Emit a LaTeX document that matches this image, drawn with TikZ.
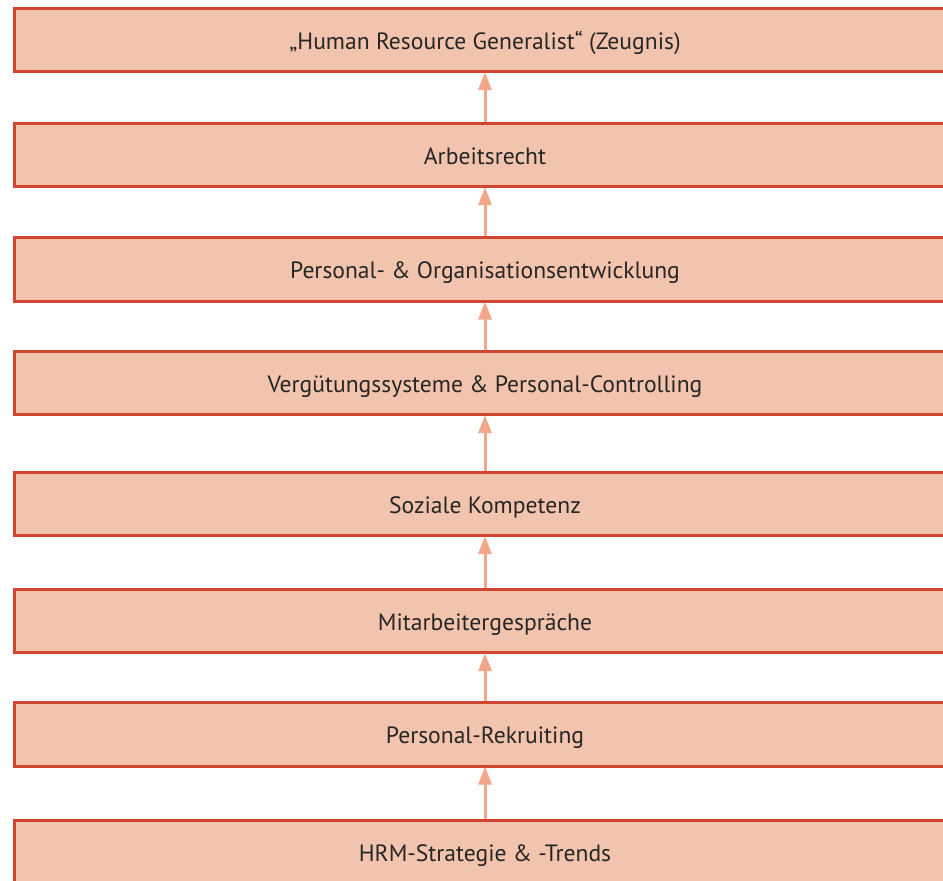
\documentclass[tikz,border=0pt]{standalone}
\usepackage{fontspec}
\setmainfont{PT Sans}
\usetikzlibrary{arrows.meta}
\definecolor{boxfill}{HTML}{F2C4AE}
\definecolor{boxdraw}{HTML}{CF4530}
\definecolor{arrowc}{HTML}{F2A68A}
\begin{document}
\begin{tikzpicture}[x=1pt,y=-1pt,
  stepbox/.style={draw=boxdraw, fill=boxfill, line width=2.6pt, minimum width=941.5pt, minimum height=63.5pt, inner sep=0pt, text height=18pt, text depth=0pt, font=\fontsize{23.6}{28}\selectfont, text=black!85},
  uparrow/.style={draw=arrowc, line width=3pt, -{Triangle[length=18pt,width=13pt]}, shorten >=-1pt}]
\useasboundingbox (0,0) rectangle (943,881);
\fill[white] (0,0) rectangle (943,881);
\begin{scope}
\clip (0,0) rectangle (943,881);
\node[stepbox] (b1) at (485,40) {„Human Resource Generalist“ (Zeugnis)};
\node[stepbox] (b2) at (485,155) {Arbeitsrecht};
\node[stepbox] (b3) at (485,269.5) {Personal- \& Organisationsentwicklung};
\node[stepbox] (b4) at (485,383) {Vergütungssysteme \& Personal-Controlling};
\node[stepbox] (b5) at (485,504) {Soziale Kompetenz};
\node[stepbox] (b6) at (485,621) {Mitarbeitergespräche};
\node[stepbox] (b7) at (485,734.5) {Personal-Rekruiting};
\node[stepbox] (b8) at (485,852) {HRM-Strategie \& -Trends};
\end{scope}
\draw[uparrow] (b2.north) -- (b1.south);
\draw[uparrow] (b3.north) -- (b2.south);
\draw[uparrow] (b4.north) -- (b3.south);
\draw[uparrow] (b5.north) -- (b4.south);
\draw[uparrow] (b6.north) -- (b5.south);
\draw[uparrow] (b7.north) -- (b6.south);
\draw[uparrow] (b8.north) -- (b7.south);
\end{tikzpicture}
\end{document}
